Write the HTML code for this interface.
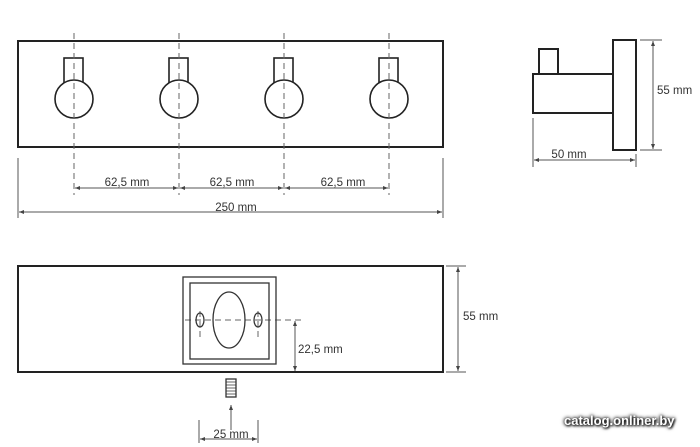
<!DOCTYPE html>
<html><head><meta charset="utf-8"><style>
body{margin:0;background:#fff;width:700px;height:447px;overflow:hidden;position:relative}
svg{position:absolute;left:0;top:0}
.wm{position:absolute;left:564px;top:413px;font:bold 13px "Liberation Sans",sans-serif;color:#fff;text-shadow:0 0 3px #000,0 0 4px #333,1px 1px 2px #000}
</style></head><body>
<svg width="700" height="447" font-family="Liberation Sans, sans-serif" font-size="11.5" fill="none">
<defs><marker id="a" markerWidth="6" markerHeight="6" refX="5" refY="3" orient="auto-start-reverse"><path d="M0,1 L5,3 L0,5 z" fill="#444"/></marker></defs>
<g stroke="#222" stroke-width="2">
<rect x="18" y="41" width="425" height="106"/>
<rect x="613" y="40" width="23" height="110"/>
<rect x="533" y="74" width="80" height="39"/>
<rect x="539" y="49" width="19" height="25"/>
<rect x="18" y="266" width="425" height="106"/>
</g>
<g stroke="#222" stroke-width="1.6">
<rect x="64" y="58" width="19" height="25"/><circle cx="74" cy="99" r="19" fill="#fff"/>
<rect x="169" y="58" width="19" height="25"/><circle cx="179" cy="99" r="19" fill="#fff"/>
<rect x="274" y="58" width="19" height="25"/><circle cx="284" cy="99" r="19" fill="#fff"/>
<rect x="379" y="58" width="19" height="25"/><circle cx="389" cy="99" r="19" fill="#fff"/>
</g>
<g stroke="#666" stroke-width="1" stroke-dasharray="6,4">
<line x1="74" y1="33" x2="74" y2="195"/><line x1="179" y1="33" x2="179" y2="195"/>
<line x1="284" y1="33" x2="284" y2="195"/><line x1="389" y1="33" x2="389" y2="195"/>
<line x1="185" y1="320" x2="302" y2="320"/>
<line x1="200" y1="311" x2="200" y2="340"/><line x1="258" y1="311" x2="258" y2="340"/>
</g>
<g stroke="#555" stroke-width="1">
<line x1="18" y1="158" x2="18" y2="218"/><line x1="443" y1="158" x2="443" y2="218"/>
<line x1="75" y1="188" x2="178" y2="188" marker-start="url(#a)" marker-end="url(#a)"/>
<line x1="180" y1="188" x2="283" y2="188" marker-start="url(#a)" marker-end="url(#a)"/>
<line x1="285" y1="188" x2="388" y2="188" marker-start="url(#a)" marker-end="url(#a)"/>
<line x1="19" y1="212" x2="442" y2="212" marker-start="url(#a)" marker-end="url(#a)"/>
<line x1="640" y1="40" x2="662" y2="40"/><line x1="640" y1="150" x2="662" y2="150"/>
<line x1="653" y1="41" x2="653" y2="149" marker-start="url(#a)" marker-end="url(#a)"/>
<line x1="533" y1="118" x2="533" y2="167"/><line x1="636" y1="154" x2="636" y2="167"/>
<line x1="534" y1="160" x2="635" y2="160" marker-start="url(#a)" marker-end="url(#a)"/>
<line x1="446" y1="266" x2="466" y2="266"/><line x1="446" y1="372" x2="466" y2="372"/>
<line x1="458" y1="267" x2="458" y2="371" marker-start="url(#a)" marker-end="url(#a)"/>
<line x1="295" y1="321" x2="295" y2="371" marker-start="url(#a)" marker-end="url(#a)"/>
<line x1="231" y1="405" x2="231" y2="430" marker-start="url(#a)"/>
<line x1="199" y1="420" x2="199" y2="443"/><line x1="258" y1="420" x2="258" y2="443"/>
<line x1="200" y1="439" x2="257" y2="439" marker-start="url(#a)" marker-end="url(#a)"/>
</g>
<g stroke="#333" stroke-width="1.3">
<rect x="183" y="277" width="93" height="87"/>
<rect x="190" y="283" width="79" height="76"/>
<ellipse cx="229" cy="320" rx="16" ry="28"/>
<ellipse cx="200" cy="320" rx="4" ry="7"/>
<ellipse cx="258" cy="320" rx="4" ry="7"/>
<rect x="226" y="379" width="10" height="18"/>
<path d="M226,382h10M226,385h10M226,388h10M226,391h10M226,394h10" stroke-width="0.8"/>
</g>
<g fill="#333" stroke="none">
<text x="127" y="186" text-anchor="middle">62,5 mm</text>
<text x="232" y="186" text-anchor="middle">62,5 mm</text>
<text x="343" y="186" text-anchor="middle">62,5 mm</text>
<text x="236" y="211" text-anchor="middle">250 mm</text>
<text x="657" y="94">55 mm</text>
<text x="569" y="158" text-anchor="middle">50 mm</text>
<text x="463" y="320">55 mm</text>
<text x="298" y="353">22,5 mm</text>
<text x="231" y="438" text-anchor="middle">25 mm</text>
</g>
</svg>
<div class="wm">catalog.onliner.by</div>
</body></html>
